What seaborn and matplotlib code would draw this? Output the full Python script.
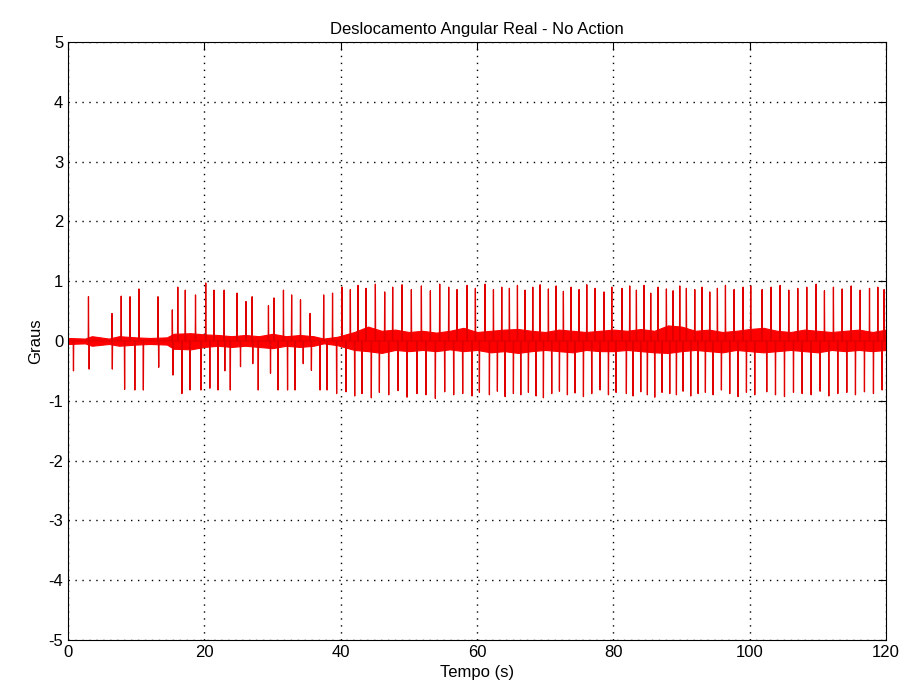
import pandas as pd
import matplotlib
matplotlib.use('Agg')
import matplotlib.pyplot as plt
import seaborn as sns

# Spikes: time (s) and peak (graus)
up_t = [3.0, 6.45, 7.8, 9.1, 10.4, 13.2, 15.3, 16.1, 17.2, 18.7,
        20.2, 21.4, 22.9, 24.8, 26.1, 27.0, 29.4, 30.2, 31.6, 32.8, 34.1, 35.5, 37.5, 38.8,
        40.19, 41.41, 42.54, 43.71, 45.08, 46.45, 47.62, 48.99, 50.36, 51.83, 53.15, 54.52,
        55.84, 57.06, 58.53, 59.75,
        61.17, 62.40, 63.62, 64.74, 65.92, 67.04, 68.17, 69.24, 70.46, 71.59, 72.66, 73.79,
        74.96, 76.09, 77.31, 78.63, 79.76,
        81.27, 82.39, 83.37, 84.49, 85.47, 86.55, 87.77, 88.75, 89.73, 90.70, 91.93, 93.00,
        94.13, 95.25, 96.43, 97.70, 99.02, 100.14,
        101.81, 103.13, 104.45, 105.72, 107.04, 108.36, 109.73, 110.95, 112.27, 113.55,
        114.87, 116.19, 117.56, 118.78, 119.7]
up_v = [0.74, 0.46, 0.75, 0.74, 0.87, 0.74, 0.52, 0.9, 0.85, 0.77,
        0.97, 0.85, 0.85, 0.8, 0.66, 0.74, 0.59, 0.72, 0.85, 0.77, 0.69, 0.46, 0.77, 0.8,
        0.9, 0.86, 0.93, 0.88, 0.95, 0.82, 0.9, 0.94, 0.86, 0.92, 0.84, 0.95, 0.9, 0.86,
        0.93, 0.88,
        0.95, 0.86, 0.9, 0.88, 0.93, 0.85, 0.9, 0.94, 0.87, 0.92, 0.83, 0.9, 0.86, 0.94,
        0.88, 0.82, 0.9,
        0.88, 0.92, 0.85, 0.93, 0.8, 0.9, 0.87, 0.84, 0.92, 0.88, 0.86, 0.9, 0.82, 0.88,
        0.93, 0.86, 0.9, 0.92,
        0.86, 0.9, 0.93, 0.85, 0.88, 0.9, 0.95, 0.84, 0.9, 0.87, 0.92, 0.85, 0.88, 0.9, 0.86]

dn_t = [0.8, 3.1, 6.5, 8.3, 9.8, 11.05, 13.3, 15.4, 16.7, 17.9, 19.5,
        20.8, 22.0, 23.0, 23.8, 25.3, 27.1, 27.9, 29.7, 30.8, 32.2, 33.3, 34.5, 35.7, 36.97,
        38.0, 39.4,
        40.78, 42.05, 43.12, 44.49, 45.67, 47.04, 48.41, 49.73, 51.19, 52.51, 53.88, 55.25,
        56.57, 57.89, 59.26, 60.34,
        61.81, 62.98, 64.11, 65.33, 66.41, 67.53, 68.66, 69.73, 70.95, 72.08, 73.25, 74.38,
        75.60, 76.82, 78.04, 79.27, 80.39,
        81.90, 82.88, 84.01, 84.98, 86.06, 87.13, 88.26, 89.24, 90.22, 91.34, 92.42, 93.49,
        94.62, 95.84, 97.06, 98.28, 99.51, 100.73,
        102.49, 103.77, 105.09, 106.41, 107.68, 109.0, 110.32, 111.59, 112.91, 114.23,
        115.50, 116.82, 118.14, 119.41]
dn_v = [-0.5, -0.47, -0.47, -0.81, -0.82, -0.82, -0.44, -0.57, -0.88, -0.82, -0.82,
        -0.79, -0.82, -0.5, -0.82, -0.43, -0.38, -0.82, -0.54, -0.82, -0.82, -0.82, -0.38,
        -0.49, -0.82, -0.82, -0.88,
        -0.85, -0.92, -0.88, -0.95, -0.86, -0.9, -0.83, -0.94, -0.88, -0.9, -0.96, -0.85,
        -0.9, -0.88, -0.92, -0.86,
        -0.9, -0.84, -0.93, -0.88, -0.9, -0.86, -0.92, -0.95, -0.88, -0.84, -0.9, -0.87,
        -0.93, -0.88, -0.82, -0.9, -0.86,
        -0.88, -0.92, -0.85, -0.9, -0.94, -0.86, -0.88, -0.9, -0.84, -0.92, -0.88, -0.86,
        -0.9, -0.82, -0.88, -0.93, -0.86, -0.9,
        -0.85, -0.9, -0.93, -0.86, -0.88, -0.9, -0.84, -0.92, -0.88, -0.86, -0.9, -0.85,
        -0.88, -0.82]

# Thickness of the noisy band around zero
band_t = [0, 2.5, 3.5, 6, 7.5, 10, 12, 14.5, 15.5, 18, 20, 22, 24, 26, 28, 30, 32, 34,
          36, 37.5, 39.5, 42, 44, 46, 48, 50, 52, 54, 56, 58, 60, 62, 64, 66, 68, 70, 72,
          74, 76, 78, 80, 82, 84, 86, 88, 90, 92, 94, 96, 98, 100, 102, 104, 106, 108, 110,
          112, 114, 116, 118, 120]
band_hi = [0.05, 0.04, 0.08, 0.04, 0.08, 0.06, 0.05, 0.06, 0.12, 0.13, 0.11, 0.1, 0.08,
           0.1, 0.08, 0.12, 0.08, 0.1, 0.08, 0.04, 0.07, 0.15, 0.24, 0.17, 0.19, 0.15, 0.17,
           0.14, 0.17, 0.22, 0.15, 0.17, 0.19, 0.2, 0.17, 0.15, 0.19, 0.17, 0.15, 0.17, 0.19,
           0.17, 0.2, 0.17, 0.26, 0.24, 0.17, 0.19, 0.15, 0.17, 0.2, 0.22, 0.17, 0.15, 0.19,
           0.17, 0.15, 0.17, 0.19, 0.15, 0.19]
band_lo = [-0.05, -0.04, -0.08, -0.05, -0.08, -0.06, -0.05, -0.06, -0.13, -0.14, -0.1,
           -0.08, -0.1, -0.08, -0.1, -0.12, -0.08, -0.1, -0.08, -0.04, -0.07, -0.15, -0.17,
           -0.2, -0.15, -0.17, -0.15, -0.17, -0.14, -0.17, -0.15, -0.19, -0.17, -0.2, -0.17,
           -0.15, -0.17, -0.19, -0.15, -0.17, -0.17, -0.15, -0.17, -0.19, -0.2, -0.17, -0.15,
           -0.17, -0.19, -0.15, -0.17, -0.19, -0.17, -0.15, -0.17, -0.19, -0.15, -0.17,
           -0.15, -0.17, -0.15]

# each spike: up from zero and back
events = sorted(zip(up_t + dn_t, up_v + dn_v))
xs, ys = [0.0], [0.0]
for t, v in events:
    xs += [t - 0.04, t, t + 0.04]
    ys += [0.0, v, 0.0]
xs.append(120.0)
ys.append(0.0)
df = pd.DataFrame({'Tempo': xs, 'Graus': ys})

sns.set_style('white')
plt.rcParams['font.family'] = ['Liberation Sans', 'DejaVu Sans']
plt.rcParams['axes.unicode_minus'] = False

fig = plt.figure(figsize=(9.07, 6.98), dpi=100)
ax = fig.add_axes([0.075, 0.083, 0.902, 0.857])
ax.fill_between(band_t, band_lo, band_hi, color='red', lw=0.8)
sns.lineplot(data=df, x='Tempo', y='Graus', color='#e00000', lw=0.9,
             estimator=None, sort=False, ax=ax)

ax.set_xlim(0, 120)
ax.set_ylim(-5, 5)
ax.set_xticks(range(0, 121, 20))
ax.set_yticks(range(-5, 6))
ax.grid(True, ls=(0, (1, 4)), color='black', lw=1.0)
ax.tick_params(direction='in', top=True, right=True, length=6, labelsize=12,
               colors='black')
for s in ax.spines.values():
    s.set_color('black')
    s.set_linewidth(0.8)
ax.set_title('Deslocamento Angular Real - No Action', fontsize=12, color='black')
ax.set_xlabel('Tempo (s)', fontsize=12, color='black')
ax.set_ylabel('Graus', fontsize=12, color='black')

fig.savefig('out.png', dpi=100)
